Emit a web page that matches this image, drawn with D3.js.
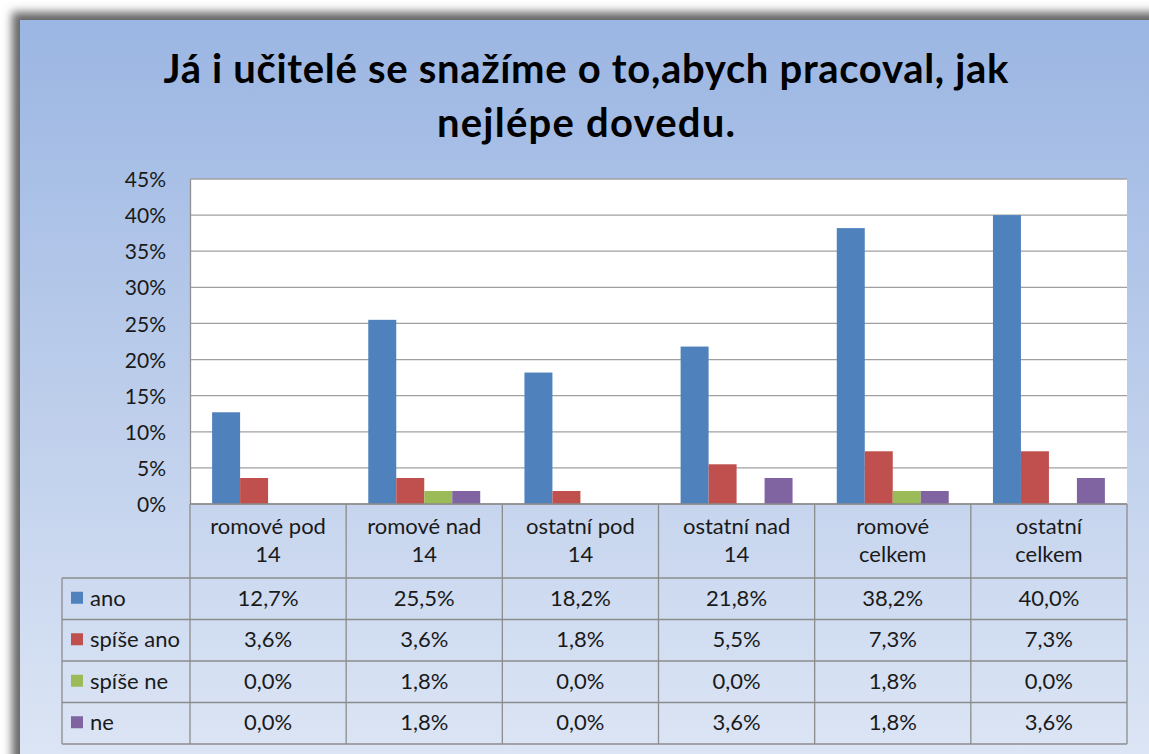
<!DOCTYPE html>
<html>
<head>
<meta charset="utf-8">
<script src="https://cdn.jsdelivr.net/npm/d3@7/dist/d3.min.js"></script>
<style>
  html, body { margin: 0; padding: 0; background: #fff; }
  svg { display: block; }
  text { font-family: Lato, "Open Sans", sans-serif; fill: #1a1a1a; }
</style>
</head>
<body>
<svg id="chart" width="1149" height="754"></svg>
<script>
// data
var titleLines = ["Já i učitelé se snažíme o to,abych pracoval, jak", "nejlépe dovedu."];
var titleWidths = [845, 298];
var categories = ["romové pod 14", "romové nad 14", "ostatní pod 14", "ostatní nad 14", "romové celkem", "ostatní celkem"];
var categoryLines = [["romové pod", "14"], ["romové nad", "14"], ["ostatní pod", "14"], ["ostatní nad", "14"], ["romové", "celkem"], ["ostatní", "celkem"]];
var seriesNames = ["ano", "spíše ano", "spíše ne", "ne"];
var seriesColors = ["#4f81bd", "#c0504d", "#9bbb59", "#8064a2"];
var ano = [12.7, 25.5, 18.2, 21.8, 38.2, 40.0];
var spiseAno = [3.6, 3.6, 1.8, 5.5, 7.3, 7.3];
var spiseNe = [0.0, 1.8, 0.0, 0.0, 1.8, 0.0];
var ne = [0.0, 1.8, 0.0, 3.6, 1.8, 3.6];
var yTicks = [0, 5, 10, 15, 20, 25, 30, 35, 40, 45];

var seriesValues = [ano, spiseAno, spiseNe, ne];

var svg = d3.select("#chart");
var plotLeft = 190, plotRight = 1127, plotTop = 179, plotBottom = 504;
var tableLeft = 62;
var headerBottom = 578;
var rowH = 41.5;
var tableFont = "22px";

var defs = svg.append("defs");
var grad = defs.append("linearGradient")
    .attr("id", "bg")
    .attr("x1", 0).attr("y1", 0).attr("x2", 0).attr("y2", 1);
grad.append("stop").attr("offset", "0%").attr("stop-color", "#9bb6e3");
grad.append("stop").attr("offset", "55%").attr("stop-color", "#c0d0ec");
grad.append("stop").attr("offset", "100%").attr("stop-color", "#dde6f5");

var blur = defs.append("filter").attr("id", "shadow")
    .attr("x", "-5%").attr("y", "-5%").attr("width", "110%").attr("height", "110%");
blur.append("feGaussianBlur").attr("stdDeviation", 5);

// frame with shadow
svg.append("rect")
    .attr("x", 12).attr("y", 12)
    .attr("width", 1160).attr("height", 760)
    .attr("fill", "#666")
    .attr("filter", "url(#shadow)");
svg.append("rect")
    .attr("x", 20).attr("y", 20)
    .attr("width", 1150).attr("height", 750)
    .attr("fill", "url(#bg)");

// title
svg.append("text")
    .attr("text-anchor", "middle")
    .style("font-weight", "bold")
    .style("font-size", "40px")
    .style("fill", "#000")
    .selectAll("tspan")
    .data(titleLines)
    .enter().append("tspan")
    .attr("x", 586)
    .attr("y", function (d, i) { return 83 + i * 54; })
    .attr("textLength", function (d, i) { return titleWidths[i]; })
    .attr("lengthAdjust", "spacing")
    .text(function (d) { return d; });

// scales
var y = d3.scaleLinear().domain([0, 45]).range([plotBottom, plotTop]);
var x0 = d3.scaleBand().domain(categories).range([plotLeft, plotRight]);
var x1 = d3.scaleBand().domain(seriesNames).range([0, x0.bandwidth()]).paddingOuter(0.79);

svg.append("rect")
    .attr("x", plotLeft).attr("y", plotTop)
    .attr("width", plotRight - plotLeft).attr("height", plotBottom - plotTop)
    .attr("fill", "#fff");

// gridlines
svg.append("g")
    .selectAll("line")
    .data(yTicks)
    .enter().append("line")
    .attr("x1", plotLeft).attr("x2", plotRight)
    .attr("y1", function (d) { return y(d); })
    .attr("y2", function (d) { return y(d); })
    .attr("stroke", "#a0a0a0")
    .attr("stroke-width", 1.3);

// y axis
var yAxis = svg.append("g")
    .attr("transform", "translate(" + plotLeft + ",0)")
    .call(d3.axisLeft(y).tickValues(yTicks).tickSize(0).tickPadding(24)
        .tickFormat(function (d) { return d + "%"; }));
yAxis.select(".domain").attr("stroke", "#909090").attr("stroke-width", 1.3);
yAxis.selectAll("text")
    .style("font-size", "21px")
    .style("font-family", "Lato, sans-serif")
    .attr("fill", "#1a1a1a")
    .attr("dy", "0.36em");

// bars
var groups = svg.append("g")
    .selectAll("g")
    .data(categories)
    .enter().append("g")
    .attr("transform", function (d) { return "translate(" + x0(d) + ",0)"; });

groups.selectAll("rect")
    .data(function (d, ci) {
        return seriesNames.map(function (s, si) {
            return { series: s, color: seriesColors[si], value: seriesValues[si][ci] };
        });
    })
    .enter().append("rect")
    .filter(function (d) { return d.value > 0; })
    .attr("x", function (d) { return x1(d.series); })
    .attr("width", x1.bandwidth())
    .attr("y", function (d) { return y(d.value); })
    .attr("height", function (d) { return plotBottom - y(d.value); })
    .attr("fill", function (d) { return d.color; });

// data table
var table = svg.append("g");
var lineColor = "#8c8c8c";
var tableBottom = headerBottom + rowH * seriesNames.length;

// horizontal lines
table.append("line")
    .attr("x1", plotLeft).attr("x2", plotRight)
    .attr("y1", plotBottom).attr("y2", plotBottom)
    .attr("stroke", lineColor).attr("stroke-width", 1.3);
table.selectAll("line.row")
    .data(d3.range(seriesNames.length + 1))
    .enter().append("line")
    .attr("class", "row")
    .attr("x1", tableLeft).attr("x2", plotRight)
    .attr("y1", function (i) { return headerBottom + i * rowH; })
    .attr("y2", function (i) { return headerBottom + i * rowH; })
    .attr("stroke", lineColor).attr("stroke-width", 1.3);

// vertical lines
var colEdges = categories.map(function (c) { return x0(c); }).concat([plotRight]);
table.selectAll("line.col")
    .data(colEdges)
    .enter().append("line")
    .attr("class", "col")
    .attr("x1", function (d) { return d; }).attr("x2", function (d) { return d; })
    .attr("y1", plotBottom).attr("y2", tableBottom)
    .attr("stroke", lineColor).attr("stroke-width", 1.3);
table.append("line")
    .attr("x1", tableLeft).attr("x2", tableLeft)
    .attr("y1", headerBottom).attr("y2", tableBottom)
    .attr("stroke", lineColor).attr("stroke-width", 1.3);

// header labels
table.selectAll("text.cat")
    .data(categories)
    .enter().append("text")
    .attr("class", "cat")
    .attr("text-anchor", "middle")
    .style("font-size", tableFont)
    .each(function (d, i) {
        d3.select(this).selectAll("tspan")
            .data(categoryLines[i])
            .enter().append("tspan")
            .attr("x", x0(d) + x0.bandwidth() / 2)
            .attr("y", function (t, j) { return 534 + j * 28; })
            .text(function (t) { return t; });
    });

// legend column and values
var rows = table.selectAll("g.datarow")
    .data(seriesNames)
    .enter().append("g")
    .attr("class", "datarow")
    .attr("transform", function (d, i) { return "translate(0," + (headerBottom + i * rowH) + ")"; });

rows.append("rect")
    .attr("x", 71).attr("y", rowH / 2 - 7)
    .attr("width", 12).attr("height", 12)
    .attr("fill", function (d, i) { return seriesColors[i]; });

rows.append("text")
    .attr("x", 90).attr("y", rowH / 2 + 7)
    .style("font-size", tableFont)
    .text(function (d) { return d; });

rows.each(function (s, si) {
    d3.select(this).selectAll("text.val")
        .data(seriesValues[si])
        .enter().append("text")
        .attr("class", "val")
        .attr("text-anchor", "middle")
        .attr("x", function (v, ci) { return x0(categories[ci]) + x0.bandwidth() / 2; })
        .attr("y", rowH / 2 + 7)
        .style("font-size", tableFont)
        .text(function (v) { return v.toFixed(1).replace(".", ",") + "%"; });
});
</script>
</body>
</html>
